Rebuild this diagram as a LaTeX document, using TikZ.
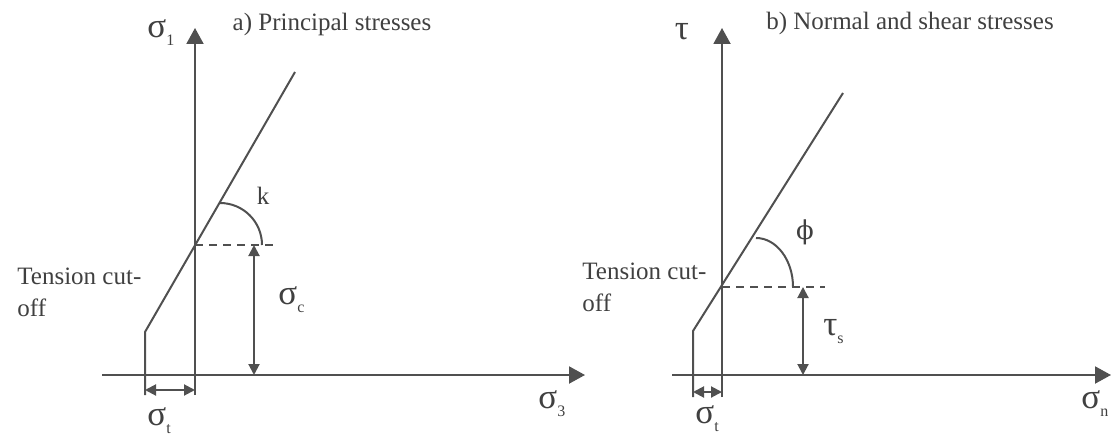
\documentclass[tikz,border=0pt]{standalone}
\usepackage{fontspec}
\setmainfont{Liberation Serif}
\newfontfamily\phifont{DejaVu Serif}
\usetikzlibrary{arrows.meta}
\definecolor{ln}{HTML}{505050}
\definecolor{tx}{HTML}{404040}
\newcommand{\sbs}[1]{\raisebox{-0.5ex}{\fontsize{8}{8}\selectfont #1}}
\begin{document}
\begin{tikzpicture}[x=0.5pt,y=-0.5pt,
  line/.style={draw=ln,line width=1pt},
  axis/.style={line,-{Triangle[length=8pt,width=8.5pt]},color=ln},
  dim/.style={line,{Triangle[length=5.5pt,width=5.5pt]}-{Triangle[length=5.5pt,width=5.5pt]},color=ln},
  dsh/.style={line,dash pattern=on 4pt off 3pt},
  lbl/.style={text=tx,inner sep=0pt,font=\fontsize{12.5}{16}\selectfont},
  grk/.style={text=tx,inner sep=0pt,font=\fontsize{17.5}{18}\selectfont}]
\useasboundingbox (0,0) rectangle (1111,438);
% ---------- panel a ----------
\coordinate (aXs) at (102,375);
\coordinate (aXe) at (585,375);
\coordinate (aYs) at (195,395);
\coordinate (aYe) at (195,28);
\coordinate (aC) at (145,395);
\coordinate (aK) at (145,332);
\coordinate (aI) at (195,245);
\coordinate (aT) at (295,72);
\coordinate (aD) at (275,245);
\coordinate (aS1) at (254,245);
\coordinate (aS2) at (254,375);
\coordinate (aA1) at (220,203);
\coordinate (aA2) at (262,245);
\coordinate (aL) at (145,390);
\coordinate (aR) at (195,390);
\draw[axis] (aXs) -- (aXe);
\draw[axis] (aYs) -- (aYe);
\draw[line] (aC) -- (aK) -- (aT);
\draw[dsh] (aI) -- (aD);
\draw[dim] (aS1) -- (aS2);
\draw[dim] (aL) -- (aR);
\draw[line] (aA1) .. controls (243.2,203) and (262,221.8) .. (aA2);
\node[lbl] (atitle) at (332,24) {a) Principal stresses};
\node[grk,anchor=west] (as1) at (147,33) {σ\sbs{1}};
\node[grk,anchor=west] (asc) at (278,300) {σ\sbs{c}};
\node[grk,anchor=west] (ast) at (147,421) {σ\sbs{t}};
\node[grk,anchor=west] (as3) at (538,404) {σ\sbs{3}};
\node[lbl] (ak) at (263,196) {k};
\node[lbl,anchor=north west,align=left] (atc) at (17,268) {Tension cut-\\off};
% ---------- panel b ----------
\coordinate (bXs) at (672,375);
\coordinate (bXe) at (1111,375);
\coordinate (bYs) at (722,397);
\coordinate (bYe) at (722,28);
\coordinate (bC) at (693,397);
\coordinate (bK) at (693,331);
\coordinate (bI) at (722,287);
\coordinate (bT) at (843,93);
\coordinate (bD) at (825,287);
\coordinate (bS1) at (803,287);
\coordinate (bS2) at (803,375);
\coordinate (bA1) at (756,238);
\coordinate (bA2) at (793,287);
\coordinate (bL) at (693,392);
\coordinate (bR) at (722,392);
\draw[axis] (bXs) -- (bXe);
\draw[axis] (bYs) -- (bYe);
\draw[line] (bC) -- (bK) -- (bT);
\draw[dsh] (bI) -- (bD);
\draw[dim] (bS1) -- (bS2);
\draw[dim] (bL) -- (bR);
\draw[line] (bA1) .. controls (776.4,238) and (793,260) .. (bA2);
\node[lbl] (btitle) at (910,23) {b) Normal and shear stresses};
\node[grk] (btau) at (682,32) {τ};
\node[text=tx,inner sep=0pt,font=\phifont\fontsize{13}{14}\selectfont] (bphi) at (805,232) {ϕ};
\node[grk,anchor=west] (bts) at (823,332) {τ\sbs{s}};
\node[grk,anchor=west] (bst) at (695,419) {σ\sbs{t}};
\node[grk,anchor=west] (bsn) at (1081,404) {σ\sbs{n}};
\node[lbl,anchor=north west,align=left] (btc) at (582,263) {Tension cut-\\off};
\end{tikzpicture}
\end{document}
